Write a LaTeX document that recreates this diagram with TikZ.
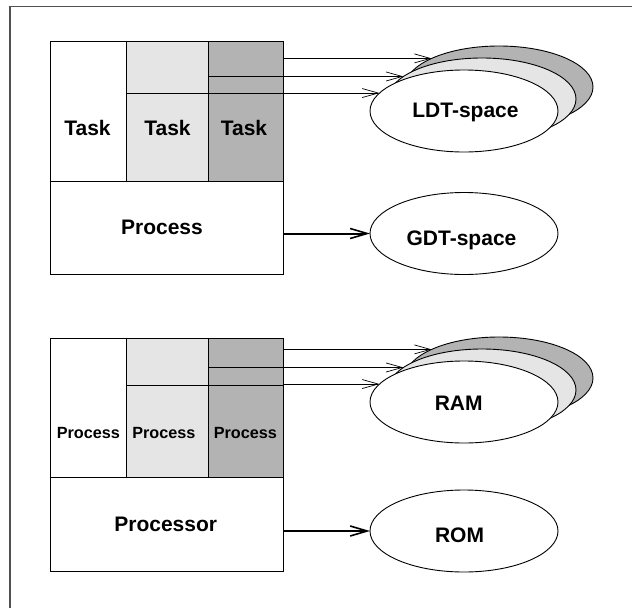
\documentclass[tikz,border=0pt]{standalone}
\usepackage{fontspec}
\setmainfont{Liberation Sans}
\usetikzlibrary{shapes.geometric,arrows.meta}
\definecolor{lgray}{HTML}{E5E5E5}
\definecolor{dgray}{HTML}{B3B3B3}
\definecolor{framegray}{HTML}{505050}
\tikzset{
  cell/.style={draw=black, line width=0.9pt, rectangle, inner sep=0pt, outer sep=0pt, anchor=north west},
  blob/.style={draw=black, line width=0.9pt, ellipse, minimum width=188pt, minimum height=82pt, inner sep=0pt, outer sep=0pt},
  lbl/.style={font=\fontsize{21}{25}\selectfont\bfseries, inner sep=0pt, anchor=base},
  slbl/.style={font=\fontsize{16.2}{19}\selectfont\bfseries, inner sep=0pt, anchor=base},
  thinarrow/.style={line width=0.7pt, -{Straight Barb[length=16pt,width=9pt,line width=0.7pt]}},
  thickarrow/.style={line width=2pt, -{Straight Barb[length=17pt,width=10pt,line width=1.6pt]}},
}
\begin{document}
\begin{tikzpicture}[x=1pt,y=-1pt]
\useasboundingbox (0,0) rectangle (632,608);
% frame
\coordinate (fbl) at (10,608);
\coordinate (ftl) at (10,6.5);
\coordinate (ftr) at (632,6.5);
\draw[framegray, line width=1.4pt] (fbl) -- (ftl) -- (ftr);

% ---------- top group ----------
\node[cell, fill=white, minimum width=76.3pt, minimum height=139.3pt] (a1) at (50,41.7) {};
\node[cell, fill=lgray, minimum width=82pt, minimum height=51.6pt] (a2u) at (126.3,41.7) {};
\node[cell, fill=lgray, minimum width=82pt, minimum height=87.7pt] (a2l) at (126.3,93.3) {};
\node[cell, fill=dgray, minimum width=75.4pt, minimum height=35pt] (a3u) at (208.3,41.7) {};
\node[cell, fill=dgray, minimum width=75.4pt, minimum height=16.6pt] (a3m) at (208.3,76.7) {};
\node[cell, fill=dgray, minimum width=75.4pt, minimum height=87.7pt] (a3l) at (208.3,93.3) {};
\node[cell, fill=white, minimum width=233.7pt, minimum height=93pt] (aproc) at (50,181) {};
\node[lbl] (ta1) at (87.5,135) {Task};
\node[lbl] (ta2) at (167.5,135) {Task};
\node[lbl] (ta3) at (244,135) {Task};
\node[lbl] (tap) at (162,234) {Process};

\node[blob, fill=dgray] (ldtc) at (499,87) {};
\node[blob, fill=lgray] (ldtb) at (482,99) {};
\node[blob, fill=white] (ldta) at (464,111) {};
\node[lbl] (tldt) at (465.5,117.7) {LDT-space};
\node[blob, fill=white] (gdt) at (464,233.5) {};
\node[lbl] (tgdt) at (461.5,245.5) {GDT-space};

\draw[thinarrow] (ldtc.157.8 -| aproc.east) -- (ldtc.157.8);
\draw[thinarrow] (ldtb.164.2 -| aproc.east) -- (ldtb.164.2);
\draw[thinarrow] (ldta.168.2 -| aproc.east) -- (ldta.168.2);
\draw[thickarrow] (gdt.west -| aproc.east) -- (gdt.west);

% ---------- bottom group ----------
\node[cell, fill=white, minimum width=76.3pt, minimum height=139.4pt] (b1) at (50,338.3) {};
\node[cell, fill=lgray, minimum width=82pt, minimum height=46.7pt] (b2u) at (126.3,338.3) {};
\node[cell, fill=lgray, minimum width=82pt, minimum height=92.7pt] (b2l) at (126.3,385) {};
\node[cell, fill=dgray, minimum width=75.4pt, minimum height=29pt] (b3u) at (208.3,338.3) {};
\node[cell, fill=dgray, minimum width=75.4pt, minimum height=17.7pt] (b3m) at (208.3,367.3) {};
\node[cell, fill=dgray, minimum width=75.4pt, minimum height=92.7pt] (b3l) at (208.3,385) {};
\node[cell, fill=white, minimum width=233.7pt, minimum height=93.3pt] (bproc) at (50,477.7) {};
\node[slbl] (tb1) at (88.3,438.7) {Process};
\node[slbl] (tb2) at (163.8,438.7) {Process};
\node[slbl] (tb3) at (245.3,438.7) {Process};
\node[lbl] (tbp) at (165.7,531.7) {Processor};

\node[blob, fill=dgray] (ramc) at (499,378) {};
\node[blob, fill=lgray] (ramb) at (482,390) {};
\node[blob, fill=white] (rama) at (464,402) {};
\node[lbl] (tram) at (458.7,410) {RAM};
\node[blob, fill=white] (rom) at (464,531) {};
\node[lbl] (trom) at (459.5,542.7) {ROM};

\draw[thinarrow] (ramc.157.8 -| bproc.east) -- (ramc.157.8);
\draw[thinarrow] (ramb.164.2 -| bproc.east) -- (ramb.164.2);
\draw[thinarrow] (rama.168.2 -| bproc.east) -- (rama.168.2);
\draw[thickarrow] (rom.west -| bproc.east) -- (rom.west);
\end{tikzpicture}
\end{document}
